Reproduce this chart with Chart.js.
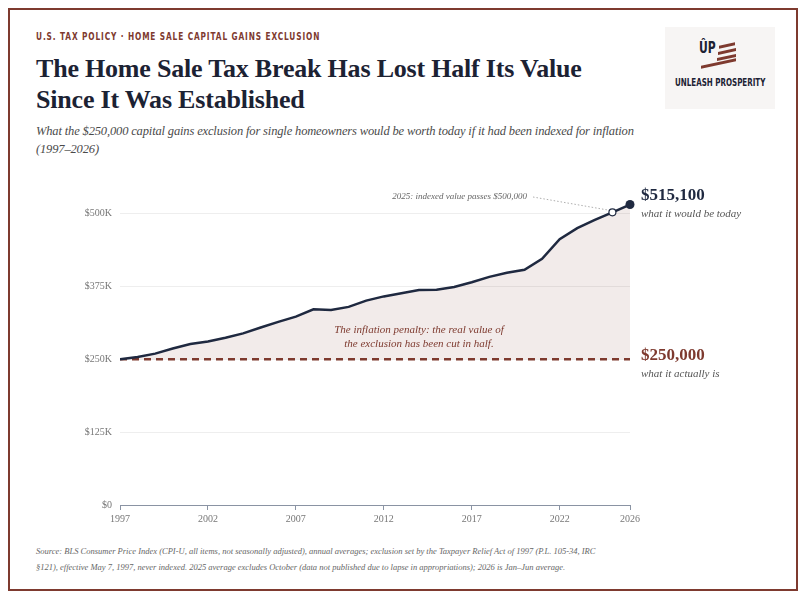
<!DOCTYPE html>
<html lang="en">
<head>
<meta charset="UTF-8">
<title>Home Sale Tax Break</title>
<script src="https://cdn.jsdelivr.net/npm/chart.js"></script>
<style>
    * { margin: 0; padding: 0; box-sizing: border-box; }
    body { width: 806px; height: 598px; background: #fff; position: relative; overflow: hidden; font-family: 'Liberation Serif', serif; }
    .frame { position: absolute; left: 8px; top: 8px; width: 790px; height: 583px; border: 2.5px solid #7e3a2f; }
    .kicker { position: absolute; left: 36px; top: 31px; white-space: nowrap; font-family: 'DejaVu Sans Condensed', sans-serif; font-weight: 700; font-size: 10px; letter-spacing: 1.1px; color: #7e3a2f; transform: scaleX(0.82); transform-origin: left top; }
    .title { position: absolute; left: 36px; top: 53px; font-size: 26px; line-height: 31px; font-weight: 700; color: #1c2233; letter-spacing: -0.2px; }
    .subtitle { position: absolute; left: 36px; top: 122px; width: 640px; font-size: 12.5px; line-height: 18px; font-style: italic; color: #4a4a4a; letter-spacing: -0.15px; }
    .subtitle span { white-space: nowrap; }
    .logo { position: absolute; left: 665px; top: 27px; width: 110px; height: 82px; background: #f7f5f4; }
    .logo .up { position: absolute; left: 34px; top: 12px; font-family: 'DejaVu Sans Condensed', sans-serif; font-weight: 700; font-size: 15px; color: #1c2233; transform: scaleX(0.8); transform-origin: left top; }
    .logo .bar { position: absolute; height: 3px; background: #7e3a2f; transform: skewY(-12deg); }
    .logo .name { position: absolute; left: 10px; top: 49px; white-space: nowrap; font-family: 'DejaVu Sans Condensed', sans-serif; font-weight: 700; font-size: 11px; color: #1c2233; transform: scaleX(0.72); transform-origin: left top; }
    .source { position: absolute; left: 36px; top: 543px; width: 560px; font-size: 8.5px; line-height: 16px; font-style: italic; color: #666; }
    #chart { position: absolute; left: 0; top: 160px; }
</style>
</head>
<body>
<div class="frame"></div>
<div class="kicker">U.S. TAX POLICY · HOME SALE CAPITAL GAINS EXCLUSION</div>
<div class="title">The Home Sale Tax Break Has Lost Half Its Value<br>Since It Was Established</div>
<div class="subtitle">What the $250,000 capital gains exclusion for single homeowners would be worth today if it had been indexed for inflation <span>(1997–2026)</span></div>
<div class="logo">
    <div class="up">ÛP</div>
    <div class="bar" style="left:54px;top:17px;width:16px"></div>
    <div class="bar" style="left:53px;top:23px;width:18px"></div>
    <div class="bar" style="left:52px;top:29px;width:19px"></div>
    <div class="bar" style="left:36px;top:35px;width:35px"></div>
    <div class="name">UNLEASH PROSPERITY</div>
</div>
<div class="source">Source: BLS Consumer Price Index (CPI-U, all items, not seasonally adjusted), annual averages; exclusion set by the Taxpayer Relief Act of 1997 (P.L. 105-34, IRC §121), effective May 7, 1997, never indexed. 2025 average excludes October (data not published due to lapse in appropriations); 2026 is Jan–Jun average.</div>
<canvas id="chart" width="806" height="380"></canvas>

<script>
    // data
    const years = [1997, 1998, 1999, 2000, 2001, 2002, 2003, 2004, 2005, 2006,
                   2007, 2008, 2009, 2010, 2011, 2012, 2013, 2014, 2015, 2016,
                   2017, 2018, 2019, 2020, 2021, 2022, 2023, 2024, 2025, 2026];
    const indexedValue = [250000, 253900, 259500, 268200, 275900, 280200, 286600, 294200, 304200, 314000,
                          323000, 335400, 334200, 339600, 350400, 357600, 362900, 368700, 369200, 373800,
                          381800, 391100, 398200, 403100, 422100, 455800, 474600, 488600, 501800, 515100];
    const actualExclusion = years.map(() => 250000);
    const yTicks = [0, 125000, 250000, 375000, 500000];
    const xTicks = [1997, 2002, 2007, 2012, 2017, 2022, 2026];

    const NAVY = '#1f2940';
    const RED = '#7e3a2f';
    const SERIF = "'Liberation Serif', serif";

    const last = years.length - 1;

    const labelsPlugin = {
        id: 'labels',
        afterDatasetsDraw(chart) {
            const { ctx, scales: { x, y } } = chart;
            ctx.save();

            // 2025 hollow marker + leader
            const px25 = x.getPixelForValue(2025), py25 = y.getPixelForValue(indexedValue[last - 1]);
            ctx.strokeStyle = '#999';
            ctx.lineWidth = 0.8;
            ctx.setLineDash([1.5, 2]);
            ctx.beginPath();
            ctx.moveTo(533, y.getPixelForValue(528000));
            ctx.lineTo(px25 - 3, py25 - 2);
            ctx.stroke();
            ctx.setLineDash([]);
            ctx.fillStyle = '#fff';
            ctx.strokeStyle = NAVY;
            ctx.lineWidth = 1.2;
            ctx.beginPath();
            ctx.arc(px25, py25, 3.5, 0, Math.PI * 2);
            ctx.fill();
            ctx.stroke();

            ctx.font = 'italic 9px ' + SERIF;
            ctx.fillStyle = '#666';
            ctx.textAlign = 'right';
            ctx.textBaseline = 'middle';
            ctx.fillText('2025: indexed value passes $500,000', 527, y.getPixelForValue(528000));

            // end marker
            const pxEnd = x.getPixelForValue(2026), pyEnd = y.getPixelForValue(indexedValue[last]);
            ctx.fillStyle = NAVY;
            ctx.beginPath();
            ctx.arc(pxEnd, pyEnd, 4.5, 0, Math.PI * 2);
            ctx.fill();

            // right labels
            ctx.textAlign = 'left';
            ctx.font = 'bold 17px ' + SERIF;
            ctx.fillStyle = NAVY;
            ctx.fillText('$' + indexedValue[last].toLocaleString('en-US'), pxEnd + 11, pyEnd - 9);
            ctx.font = 'italic 11px ' + SERIF;
            ctx.fillStyle = '#555';
            ctx.fillText('what it would be today', pxEnd + 11, pyEnd + 10);

            const py250 = y.getPixelForValue(actualExclusion[last]);
            ctx.font = 'bold 17px ' + SERIF;
            ctx.fillStyle = RED;
            ctx.fillText('$' + actualExclusion[last].toLocaleString('en-US'), pxEnd + 11, py250 - 4);
            ctx.font = 'italic 11px ' + SERIF;
            ctx.fillStyle = '#555';
            ctx.fillText('what it actually is', pxEnd + 11, py250 + 15);

            // penalty note
            ctx.textAlign = 'center';
            ctx.font = 'italic 11px ' + SERIF;
            ctx.fillStyle = RED;
            const nx = x.getPixelForValue(2014);
            ctx.fillText('The inflation penalty: the real value of', nx, y.getPixelForValue(300000));
            ctx.fillText('the exclusion has been cut in half.', nx, y.getPixelForValue(275000));

            ctx.restore();
        }
    };

    new Chart(document.getElementById('chart'), {
        type: 'line',
        data: {
            labels: years,
            datasets: [
                {
                    label: 'Indexed for inflation',
                    data: years.map((yr, i) => ({ x: yr, y: indexedValue[i] })),
                    borderColor: NAVY,
                    borderWidth: 2.5,
                    pointRadius: 0,
                    tension: 0,
                    fill: { target: 1, above: 'rgba(126,58,47,0.10)', below: 'rgba(126,58,47,0.10)' }
                },
                {
                    label: 'Actual exclusion',
                    data: years.map((yr, i) => ({ x: yr, y: actualExclusion[i] })),
                    borderColor: RED,
                    borderWidth: 2.5,
                    borderDash: [7, 5],
                    pointRadius: 0,
                    fill: false
                }
            ]
        },
        options: {
            responsive: false,
            animation: false,
            layout: { padding: { top: 30, right: 176, left: 0, bottom: 0 } },
            plugins: { legend: { display: false }, tooltip: { enabled: false } },
            scales: {
                x: {
                    type: 'linear',
                    min: 1997,
                    max: 2026,
                    afterBuildTicks: s => { s.ticks = xTicks.map(v => ({ value: v })); },
                    afterFit: s => { s.height = 35; },
                    grid: { drawOnChartArea: false, color: '#8a93a3', tickLength: 5 },
                    border: { color: '#8a93a3', width: 1 },
                    ticks: { color: '#777', font: { family: SERIF, size: 10 }, padding: 3, maxRotation: 0, callback: v => String(v) }
                },
                y: {
                    min: 0,
                    max: 540000,
                    afterBuildTicks: s => { s.ticks = yTicks.map(v => ({ value: v })); },
                    afterFit: s => { s.width = 120; },
                    grid: { color: '#eeeeee', drawTicks: false },
                    border: { display: false },
                    ticks: { color: '#777', font: { family: SERIF, size: 10 }, padding: 8,
                             callback: v => v === 0 ? '$0' : '$' + (v / 1000) + 'K' }
                }
            }
        },
        plugins: [labelsPlugin]
    });
</script>
</body>
</html>
